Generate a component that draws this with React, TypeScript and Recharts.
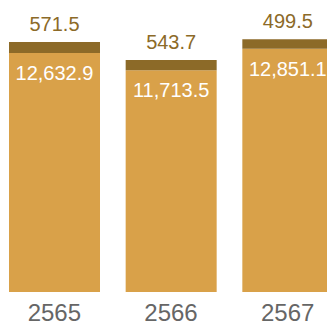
import { BarChart, Bar, XAxis, YAxis, LabelList } from 'recharts';

const years = ['2565', '2566', '2567'];
const baseValues = [12632.9, 11713.5, 12851.1];
const topValues = [571.5, 543.7, 499.5];

const data = years.map((year, i) => ({
  year,
  base: baseValues[i],
  top: topValues[i],
}));

const fmt = (v: any) =>
  Number(v).toLocaleString('en-US', { minimumFractionDigits: 1, maximumFractionDigits: 1 });

const font = '"Liberation Sans", Arial, sans-serif';

export default function App() {
  return (
    <div
      style={{
        position: 'absolute',
        left: 0,
        top: 0,
        width: 327,
        height: 326,
        overflow: 'hidden',
        background: '#fff',
        fontFamily: font,
      }}
    >
      <div style={{ marginLeft: -4 }}>
        <BarChart
          width={350}
          height={326}
          data={data}
          margin={{ top: 27, right: 0, bottom: 0, left: 0 }}
          barSize={91}
        >
          <XAxis
            dataKey="year"
            axisLine={false}
            tickLine={false}
            height={34}
            tickMargin={6}
            tick={{ fill: '#666666', fontSize: 24, fontFamily: font }}
          />
          <YAxis hide domain={[0, 14000]} />
          <Bar dataKey="base" stackId="a" fill="#D9A149" isAnimationActive={false}>
            <LabelList
              dataKey="base"
              position="insideTop"
              offset={13}
              formatter={fmt}
              fill="#ffffff"
              fontSize={20}
              fontFamily={font}
            />
          </Bar>
          <Bar dataKey="top" stackId="a" fill="#8C6A28" isAnimationActive={false}>
            <LabelList
              dataKey="top"
              position="top"
              offset={11}
              formatter={fmt}
              fill="#8C6A28"
              fontSize={20}
              fontFamily={font}
            />
          </Bar>
        </BarChart>
      </div>
    </div>
  );
}
